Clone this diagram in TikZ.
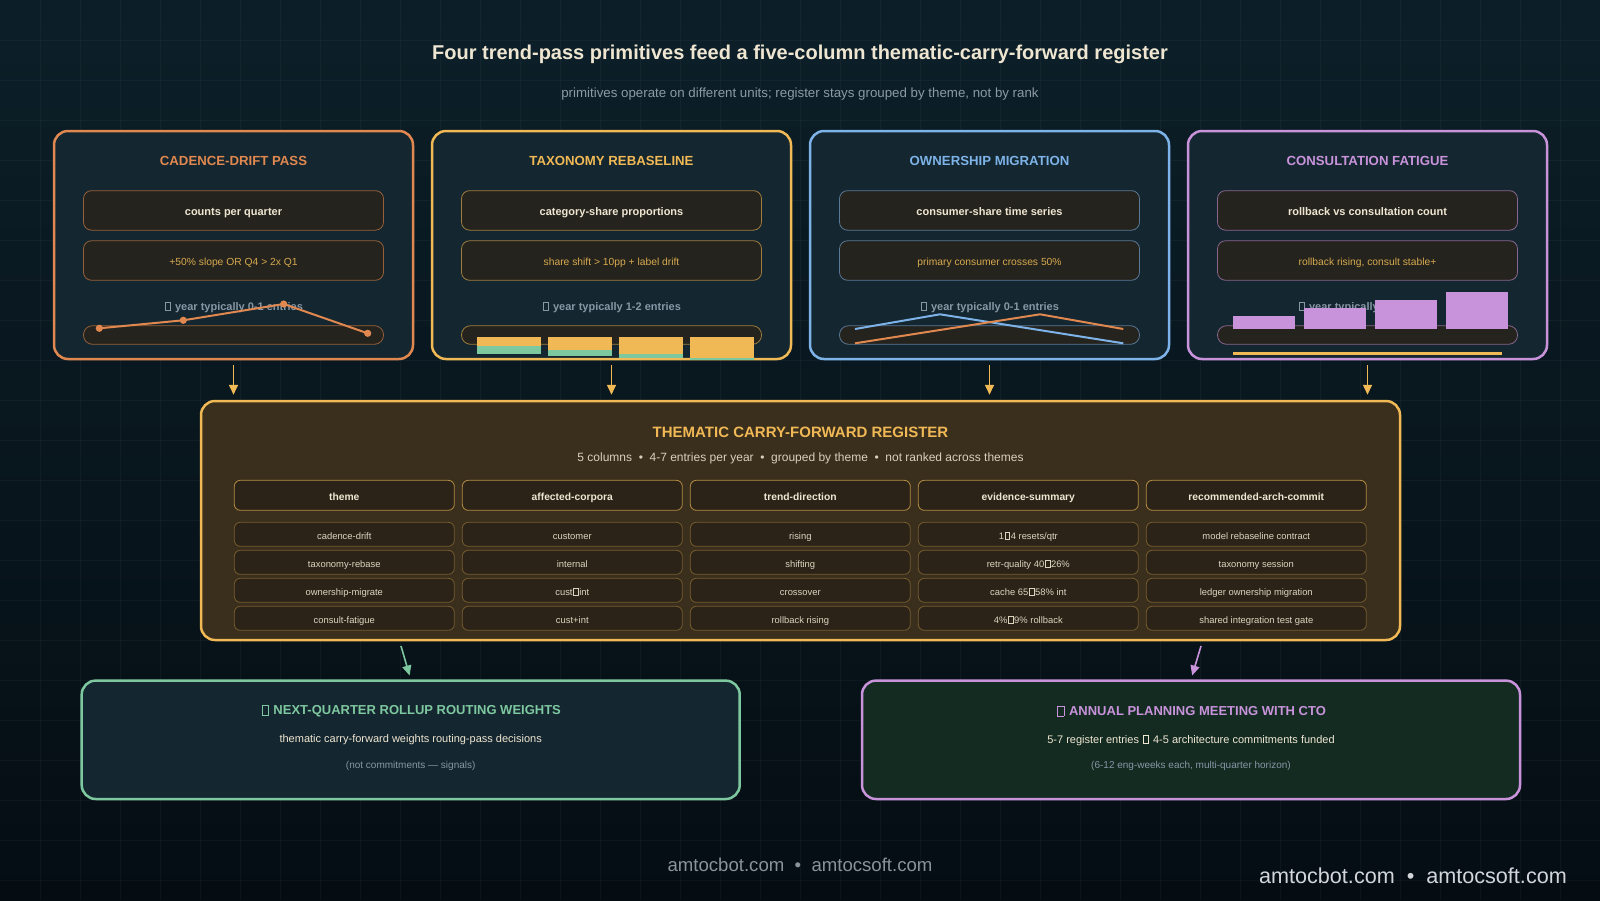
\documentclass[tikz,border=0pt]{standalone}
\usepackage{fontspec}
\setmainfont{Liberation Sans}
\usetikzlibrary{arrows.meta, positioning}
\definecolor{bgtop}{HTML}{0C1F28}
\definecolor{bgbot}{HTML}{050D13}
\definecolor{cadorange}{HTML}{E0884F}
\definecolor{taxyellow}{HTML}{F0B955}
\definecolor{ownblue}{HTML}{7DB3E8}
\definecolor{conpurple}{HTML}{C893DB}
\definecolor{rollgreen}{HTML}{7EC8A0}
\definecolor{panelfill}{HTML}{14262F}
\definecolor{cellfill}{HTML}{25231D}
\definecolor{regfill}{HTML}{3A2E1D}
\definecolor{regcell}{HTML}{2B2318}
\definecolor{ctofill}{HTML}{142B22}
\definecolor{creamtxt}{HTML}{EFE6D2}
\definecolor{goldtxt}{HTML}{D6A94F}
\definecolor{mutetxt}{HTML}{8797A6}
\definecolor{subtxt}{HTML}{8C9AA5}
\definecolor{footgray}{HTML}{8A939C}
\definecolor{footlight}{HTML}{D2D6DA}
\newcommand{\tofu}{{\kern0.08em\setlength{\fboxsep}{0pt}\setlength{\fboxrule}{0.07em}\fbox{\rule{0pt}{0.7em}\hspace{0.42em}}\kern0.08em}}

\begin{document}
\begin{tikzpicture}[x=1pt, y=-1pt,
  gridline/.style={white, opacity=0.035, line width=1pt},
  panel/.style={draw=#1, line width=2.5pt, fill=panelfill, rounded corners=14pt, minimum width=359pt, minimum height=228pt, inner sep=0pt},
  paneltitle/.style={font=\bfseries\fontsize{13.2}{15}\selectfont},
  cell/.style={draw=#1!60!cellfill, line width=0.8pt, fill=cellfill, rounded corners=8pt, minimum width=300pt, minimum height=39.5pt, inner sep=0pt, text height=1em, text depth=0pt},
  strip/.style={draw=#1!60!cellfill, line width=0.8pt, fill=cellfill, rounded corners=9pt, minimum width=300pt, minimum height=18.6pt, inner sep=0pt},
  hintlabel/.style={font=\bfseries\fontsize{11}{13}\selectfont, text=mutetxt},
  register/.style={draw=taxyellow, line width=2.5pt, fill=regfill, rounded corners=14pt, minimum width=1199pt, minimum height=239pt, inner sep=0pt},
  colhead/.style={draw=taxyellow!70!regcell, line width=0.8pt, fill=regcell, rounded corners=6pt, minimum width=220pt, minimum height=30pt, inner sep=0pt, text height=1em, text depth=0pt, font=\bfseries\fontsize{10.3}{12}\selectfont, text=creamtxt},
  regcellbox/.style={draw=taxyellow!38!regcell, line width=0.8pt, fill=regcell, rounded corners=6pt, minimum width=220pt, minimum height=24pt, inner sep=0pt, text height=1em, text depth=0pt, font=\fontsize{9.4}{11}\selectfont, text=creamtxt!90!regfill},
  outbox/.style={draw=#1, line width=2.5pt, rounded corners=14pt, minimum width=658pt, minimum height=118.4pt, inner sep=0pt},
  flow/.style={draw=#1, line width=1.6pt, -{Triangle[length=10pt, width=9pt]}, shorten >=5pt, shorten <=5pt},
]
  % Background and grid
  \useasboundingbox (0,0) rectangle (1600,900);
  \shade[top color=bgtop, bottom color=bgbot] (0,0) rectangle (1600,900);
  \foreach \g in {40,80,...,1560} {
    \draw[gridline] (\g,0) -- (\g,900);
  }
  \foreach \g in {40,80,...,880} {
    \draw[gridline] (0,\g) -- (1600,\g);
  }

  % Title
  \node[font=\bfseries\fontsize{20}{23}\selectfont, text=creamtxt] (title) at (800,54) {Four trend-pass primitives feed a five-column thematic-carry-forward register};
  \node[font=\fontsize{13.3}{16}\selectfont, text=subtxt] (subtitle) at (800,94) {primitives operate on different units; register stays grouped by theme, not by rank};

  % Primitive panels
  \foreach \n/\x/\col/\head/\meas/\trig/\hint in {
    cad/233.5/cadorange/CADENCE-DRIFT PASS/counts per quarter/{+50\% slope OR Q4 > 2x Q1}/0-1,
    tax/611.5/taxyellow/TAXONOMY REBASELINE/category-share proportions/{share shift > 10pp + label drift}/1-2,
    own/989.5/ownblue/OWNERSHIP MIGRATION/consumer-share time series/{primary consumer crosses 50\%}/0-1,
    con/1367.5/conpurple/CONSULTATION FATIGUE/rollback vs consultation count/{rollback rising, consult stable+}/0-1} {
    \node[panel=\col] (\n) at (\x,245) {};
    \node[paneltitle, text=\col] (\n-title) at (\x,161.3) {\head};
    \node[cell=\col, font=\bfseries\fontsize{11}{13}\selectfont, text=creamtxt] (\n-meas) at (\x,210.4) {\meas};
    \node[cell=\col, font=\fontsize{10.3}{12}\selectfont, text=goldtxt] (\n-trig) at (\x,260.5) {\trig};
    \node[hintlabel] (\n-hint) at (\x,307.3) {\tofu{} year typically \hint{} entries};
    \node[strip=\col] (\n-strip) at (\x,335) {};
  }

  % Cadence sparkline
  \draw[cadorange, line width=2pt] (99.3,328.3) -- (183.3,320.3) -- (283.7,304) -- (367.7,333.3);
  \foreach \px/\py in {99.3/328.3, 183.3/320.3, 283.7/304, 367.7/333.3} {
    \fill[cadorange] (\px,\py) circle (3.6pt);
  }

  % Taxonomy share bars (top share / bottom share)
  \foreach \bx/\ya/\yb in {477/345.7/353.7, 548/350/355.7, 619/354/357.7, 690/358/360} {
    \fill[taxyellow] (\bx,337) rectangle (\bx+64,\ya);
    \fill[rollgreen] (\bx,\ya) rectangle (\bx+64,\yb);
  }

  % Ownership crossover
  \draw[ownblue, line width=2pt] (855,329) -- (940,314.3) -- (1123.3,343.3);
  \draw[cadorange, line width=2pt] (855,343.3) -- (1040,314.3) -- (1123.3,329);

  % Consultation bars
  \foreach \bx/\by in {1233/316, 1304/308.3, 1375/300, 1446/292} {
    \fill[conpurple] (\bx,\by) rectangle (\bx+62,328.7);
  }
  \draw[taxyellow, line width=3pt] (1233,353.3) -- (1502,353.3);

  % Register
  \node[register] (reg) at (800.5,520.5) {};
  \node[font=\bfseries\fontsize{15}{18}\selectfont, text=taxyellow] (reg-title) at (800.5,432.7) {THEMATIC CARRY-FORWARD REGISTER};
  \node[font=\fontsize{12}{14}\selectfont, text=creamtxt!88!regfill] (reg-sub) at (800.5,458) {5 columns \ • \ 4-7 entries per year \ • \ grouped by theme \ • \ not ranked across themes};

  \foreach \c/\head/\ra/\rb/\rc/\rd in {
    0/theme/cadence-drift/taxonomy-rebase/ownership-migrate/consult-fatigue,
    1/affected-corpora/customer/internal/{cust\tofu{}int}/cust+int,
    2/trend-direction/rising/shifting/crossover/rollback rising,
    3/evidence-summary/{1\tofu{}4 resets/qtr}/{retr-quality 40\tofu{}26\%}/{cache 65\tofu{}58\% int}/{4\%\tofu{}9\% rollback},
    4/recommended-arch-commit/model rebaseline contract/taxonomy session/ledger ownership migration/shared integration test gate} {
    \node[colhead] (col\c) at ({344.3+228*\c},495.3) {\head};
    \node[regcellbox] (col\c-r0) at ({344.3+228*\c},534.3) {\ra};
    \node[regcellbox] (col\c-r1) at ({344.3+228*\c},562.3) {\rb};
    \node[regcellbox] (col\c-r2) at ({344.3+228*\c},590.3) {\rc};
    \node[regcellbox] (col\c-r3) at ({344.3+228*\c},618.3) {\rd};
  }

  % Feeds into register
  \foreach \n in {cad,tax,own,con} {
    \draw[flow=taxyellow] (\n.south) -- (\n.south |- reg.north);
  }

  % Outputs
  \node[outbox=rollgreen, fill=panelfill] (roll) at (410.7,739.8) {};
  \node[font=\bfseries\fontsize{13}{15}\selectfont, text=rollgreen] (roll-title) at (410.7,711) {\tofu{} NEXT-QUARTER ROLLUP ROUTING WEIGHTS};
  \node[font=\fontsize{11}{13}\selectfont, text=creamtxt] (roll-sub) at (410.7,740) {thematic carry-forward weights routing-pass decisions};
  \node[font=\fontsize{10}{12}\selectfont, text=mutetxt] (roll-note) at (410.7,766) {(not commitments — signals)};

  \node[outbox=conpurple, fill=ctofill] (cto) at (1191,739.8) {};
  \node[font=\bfseries\fontsize{13}{15}\selectfont, text=conpurple] (cto-title) at (1191,711) {\tofu{} ANNUAL PLANNING MEETING WITH CTO};
  \node[font=\fontsize{11}{13}\selectfont, text=creamtxt] (cto-sub) at (1191,740) {5-7 register entries \tofu{} 4-5 architecture commitments funded};
  \node[font=\fontsize{10}{12}\selectfont, text=mutetxt] (cto-note) at (1191,766) {(6-12 eng-weeks each, multi-quarter horizon)};

  \coordinate (reg-out-l) at (401,646);
  \coordinate (reg-out-r) at (1201,646);
  \draw[flow=rollgreen, shorten <=0pt, shorten >=4pt] (reg-out-l) -- (roll.north);
  \draw[flow=conpurple, shorten <=0pt, shorten >=4pt] (reg-out-r) -- (cto.north);

  % Footer
  \node[font=\fontsize{18.6}{21}\selectfont, text=footgray] (foot) at (800,865) {amtocbot.com \ • \ amtocsoft.com};
  \node[font=\fontsize{21.6}{24}\selectfont, text=footlight, anchor=east, inner sep=0pt] (brand) at (1567,875.5) {amtocbot.com \ • \ amtocsoft.com};
\end{tikzpicture}
\end{document}
